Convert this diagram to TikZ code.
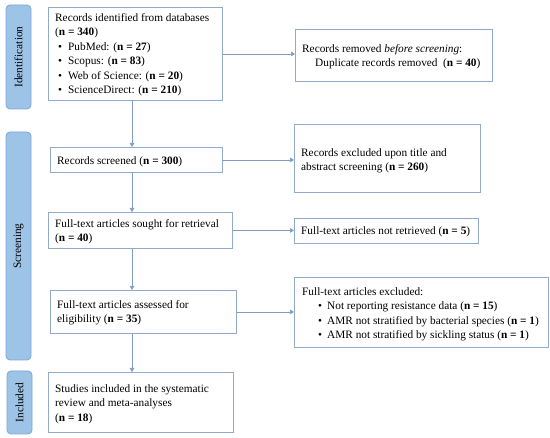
\documentclass[tikz,border=0pt]{standalone}
\usepackage{fontspec}
\setmainfont{Liberation Serif}
\usetikzlibrary{arrows.meta,calc}
\definecolor{boxline}{HTML}{8FAACB}
\definecolor{arrowc}{HTML}{7F9CC0}
\definecolor{barfill}{HTML}{9DC3E6}
\definecolor{barline}{HTML}{7BA6D6}
\begin{document}
\begin{tikzpicture}[x=1pt,y=-1pt,
 box/.style={draw=boxline, line width=0.9pt, anchor=north west, inner sep=0pt},
 bar/.style={draw=barline, fill=barfill, line width=0.8pt, rounded corners=4pt, rotate=90, inner sep=0pt, font=\fontsize{11.3}{14.5}\selectfont},
 txt/.style={anchor=north west, inner sep=0pt, align=left, font=\fontsize{11.3}{14.5}\selectfont},
 arr/.style={draw=arrowc, line width=0.7pt, -{Triangle[width=4.5pt,length=4pt]}}]
\useasboundingbox (0,0) rectangle (550,438);
% phase bars
\node[bar, minimum width=104pt, minimum height=25pt] (idbar) at (18.5,57) {Identification};
\node[bar, minimum width=228pt, minimum height=25pt] (scbar) at (18.5,246) {Screening};
\node[bar, minimum width=63pt, minimum height=25pt] (inbar) at (19.5,402.5) {Included};
% boxes
\node[box, minimum width=174pt, minimum height=93pt] (b1) at (48,7) {};
\node[box, minimum width=197pt, minimum height=52pt] (b2) at (295,29) {};
\node[box, minimum width=172pt, minimum height=25pt] (scr) at (50,147) {};
\node[box, minimum width=186pt, minimum height=68pt] (ex1) at (294,124) {};
\node[box, minimum width=184pt, minimum height=36pt] (sgt) at (48,212) {};
\node[box, minimum width=184pt, minimum height=25pt] (nr) at (294,218) {};
\node[box, minimum width=186pt, minimum height=43pt] (asd) at (50,290) {};
\node[box, minimum width=254pt, minimum height=70pt] (ex2) at (294,277) {};
\node[box, minimum width=185pt, minimum height=60pt] (inc) at (48,372) {};
% texts
\node[txt] (t1) at (55,13) {Records identified from databases\\
(\textbf{n = 340})\\
\hspace*{3pt}\makebox[10pt][l]{\textbullet}PubMed: (\textbf{n = 27})\\
\hspace*{3pt}\makebox[10pt][l]{\textbullet}Scopus: (\textbf{n = 83})\\
\hspace*{3pt}\makebox[10pt][l]{\textbullet}Web of Science: (\textbf{n = 20})\\
\hspace*{3pt}\makebox[10pt][l]{\textbullet}ScienceDirect: (\textbf{n = 210})};
\node[txt] (t2) at (302,44) {Records removed \textit{before screening}:\\
\hspace*{13pt}Duplicate records removed\ \ (\textbf{n = 40})};
\node[txt] (t3) at (57,156) {Records screened (\textbf{n = 300})};
\node[txt] (t4) at (301,148) {Records excluded upon title and\\
abstract screening (\textbf{n = 260})};
\node[txt] (t5) at (55,219) {Full-text articles sought for retrieval\\
(\textbf{n = 40})};
\node[txt] (t6) at (301,226) {Full-text articles not retrieved (\textbf{n = 5})};
\node[txt] (t7) at (57,300) {Full-text articles assessed for\\
eligibility (\textbf{n = 35})};
\node[txt] (t8) at (302,287) {Full-text articles excluded:\\
\hspace*{16pt}\makebox[9pt][l]{\textbullet}Not reporting resistance data (\textbf{n = 15})\\
\hspace*{16pt}\makebox[9pt][l]{\textbullet}AMR not stratified by bacterial species (\textbf{n = 1})\\
\hspace*{16pt}\makebox[9pt][l]{\textbullet}AMR not stratified by sickling status (\textbf{n = 1})};
\node[txt] (t9) at (55,384) {Studies included in the systematic\\
review and meta-analyses\\
(\textbf{n = 18})};
% connectors
\coordinate (spine) at (132,0);
\draw[arr] (b1.south -| spine) -- (scr.north -| spine);
\draw[arr] (scr.south -| spine) -- (sgt.north -| spine);
\draw[arr] (sgt.south -| spine) -- (asd.north -| spine);
\draw[arr] (asd.south -| spine) -- (inc.north -| spine);
\draw[arr] (b1.east) -- (b1.east -| b2.west);
\draw[arr] (scr.east) -- (scr.east -| ex1.west);
\draw[arr] (sgt.east) -- (sgt.east -| nr.west);
\draw[arr] (asd.east) -- (asd.east -| ex2.west);
\end{tikzpicture}
\end{document}
